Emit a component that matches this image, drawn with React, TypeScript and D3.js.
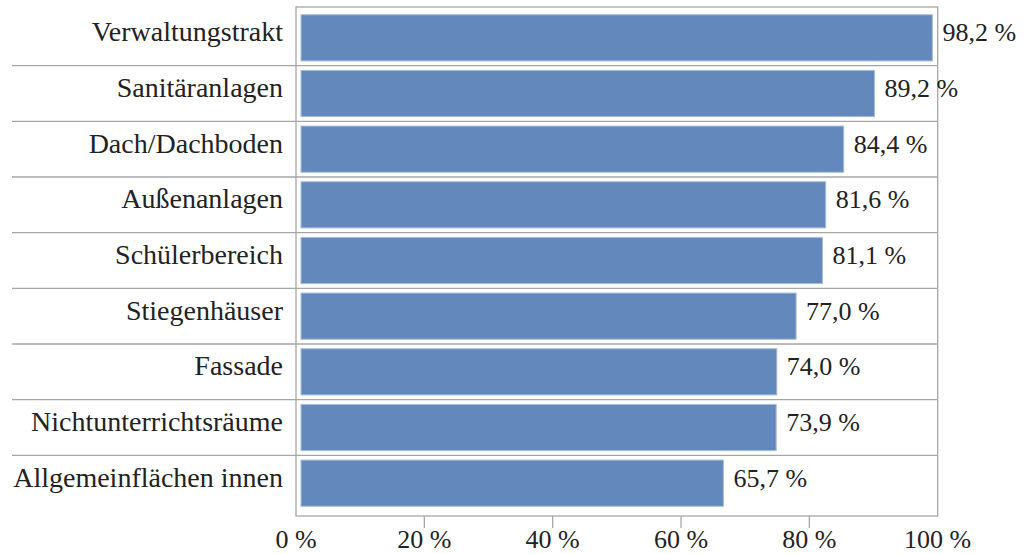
import React from "react";
import * as d3 from "d3";

const categories = [
  "Verwaltungstrakt",
  "Sanitäranlagen",
  "Dach/Dachboden",
  "Außenanlagen",
  "Schülerbereich",
  "Stiegenhäuser",
  "Fassade",
  "Nichtunterrichtsräume",
  "Allgemeinflächen innen",
];
const values = [98.2, 89.2, 84.4, 81.6, 81.1, 77.0, 74.0, 73.9, 65.7];
const tickValues = [0, 20, 40, 60, 80, 100];

const W = 1028;
const H = 554;
const FONT = "'Liberation Serif', 'Times New Roman', serif";

const fmt = (v: number) => v.toFixed(1).replace(".", ",") + " %";

export default function App() {
  const frame = { left: 296, right: 937.7, top: 7, bottom: 516 };
  const x = d3.scaleLinear().domain([0, 100]).range([frame.left, frame.right]);
  const barX = d3.scaleLinear().domain([0, 100]).range([301, 944]);
  const rows = d3.scaleBand<string>().domain(categories).range([10, 511]);
  const bw = rows.bandwidth();
  const barH = bw * 0.83;
  const grid = "#a6a6a6";
  const textColor = "#222";

  return (
    <svg
      width={W}
      height={H}
      style={{ position: "absolute", left: 0, top: 0, background: "#fff" }}
      fontFamily={FONT}
    >
      {/* row separators */}
      {categories.slice(1).map((c) => (
        <line
          key={"sep" + c}
          x1={12}
          x2={frame.right}
          y1={rows(c)!}
          y2={rows(c)!}
          stroke={grid}
          strokeWidth={1.3}
        />
      ))}
      {/* plot frame */}
      <rect
        x={frame.left}
        y={frame.top}
        width={frame.right - frame.left}
        height={frame.bottom - frame.top}
        fill="none"
        stroke={grid}
        strokeWidth={1.3}
      />
      {/* bars */}
      {categories.map((c, i) => (
        <rect
          key={"bar" + c}
          x={barX(0)}
          y={rows(c)! + (bw - barH) / 2}
          width={barX(values[i]) - barX(0)}
          height={barH}
          fill="#6389bc"
          stroke="#a8bddb"
          strokeWidth={1}
        />
      ))}
      {/* category labels */}
      {categories.map((c) => (
        <text
          key={"lab" + c}
          x={283}
          y={rows(c)! + bw / 2 + 3.5}
          textAnchor="end"
          fontSize={28}
          fill={textColor}
        >
          {c}
        </text>
      ))}
      {/* value labels */}
      {categories.map((c, i) => (
        <text
          key={"val" + c}
          x={barX(values[i]) + 10}
          y={rows(c)! + bw / 2 + 3.5}
          fontSize={26}
          fill={textColor}
        >
          {fmt(values[i])}
        </text>
      ))}
      {/* x axis ticks */}
      {tickValues
        .filter((t) => t > 0 && t < 100)
        .map((t) => (
          <line
            key={"tk" + t}
            x1={x(t)}
            x2={x(t)}
            y1={frame.bottom}
            y2={frame.bottom + 12}
            stroke={grid}
            strokeWidth={1.3}
          />
        ))}
      {tickValues.map((t) => (
        <text
          key={"tl" + t}
          x={x(t)}
          y={548}
          textAnchor="middle"
          fontSize={26}
          fill={textColor}
        >
          {t + " %"}
        </text>
      ))}
    </svg>
  );
}
